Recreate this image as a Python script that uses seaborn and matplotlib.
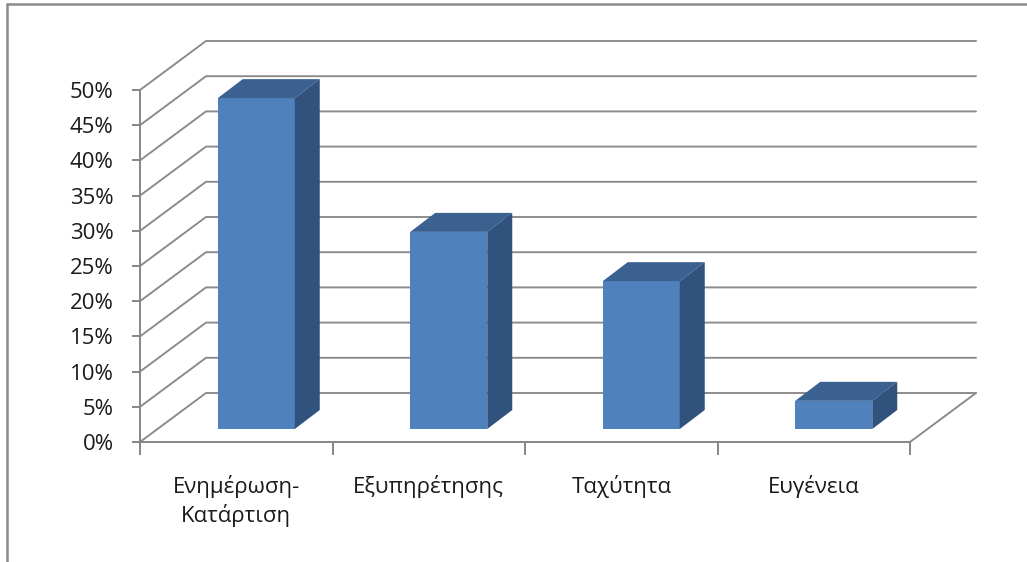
import numpy as np
import pandas as pd
import seaborn as sns
import matplotlib.pyplot as plt
from matplotlib.patches import Polygon
from matplotlib.lines import Line2D
from matplotlib.ticker import FixedLocator

categories = ['Ενημέρωση-\nΚατάρτιση', 'Εξυπηρέτησης', 'Ταχύτητα', 'Ευγένεια']
values = [47, 28, 21, 4]
yticks = [0, 5, 10, 15, 20, 25, 30, 35, 40, 45, 50]

sns.set_style('white')
plt.rcParams['font.family'] = ['Open Sans', 'DejaVu Sans']

W, H = 1027, 562
fig = plt.figure(figsize=(W / 100, H / 100), dpi=100)
# front plane of the floor: x 140..910 px, y 442 (0%) .. 90 (50%)
ax = fig.add_axes([140 / W, (H - 442) / H, 770 / W, 352 / H])
ax.set_xlim(-0.5, 3.5)
ax.set_ylim(0, 50)

# pixel -> data units
px = 4 / 770
py = 50 / 352

grid_c = '#8c8c8c'
# back wall offset, bar offset, bar depth (in px)
wx, wy = 66 * px, 49 * py
bx, by = 20 * px, 13 * py
dx, dy = 25 * px, 19 * py

# perspective gridlines: left wall diagonal + back wall line
for v in yticks:
    ax.plot([-0.5, -0.5 + wx, 3.5 + wx], [v, v + wy, v + wy],
            color=grid_c, lw=1.4, clip_on=False, zorder=1)
# floor right edge
ax.plot([3.5, 3.5 + wx], [0, wy], color=grid_c, lw=1.4, clip_on=False, zorder=1)

df = pd.DataFrame({'cat': categories, 'val': values})
sns.barplot(data=df, x='cat', y='val', width=0.4, color='#4f81bd',
            saturation=1, linewidth=0, ax=ax, zorder=3)

for p in ax.patches:
    x0 = p.get_x() + bx
    w = p.get_width()
    h = p.get_height()
    p.set_x(x0)
    p.set_y(by)
    p.set_clip_on(False)
    top = by + h
    ax.add_patch(Polygon([(x0, top), (x0 + w, top), (x0 + w + dx, top + dy), (x0 + dx, top + dy)],
                         closed=True, facecolor='#3a6190', edgecolor='none', zorder=3, clip_on=False))
    ax.add_patch(Polygon([(x0 + w, by), (x0 + w, top), (x0 + w + dx, top + dy), (x0 + w + dx, by + dy)],
                         closed=True, facecolor='#31527c', edgecolor='none', zorder=3, clip_on=False))

ax.set_xlim(-0.5, 3.5)
ax.set_ylim(0, 50)
ax.set_xlabel('')
ax.set_ylabel('')

for s in ['top', 'right']:
    ax.spines[s].set_visible(False)
for s in ['left', 'bottom']:
    ax.spines[s].set_color('#868686')
    ax.spines[s].set_linewidth(1.4)
    ax.spines[s].set_zorder(2)

ax.set_yticks(yticks)
ax.set_yticklabels([f'{v}%' for v in yticks])
ax.tick_params(axis='y', direction='out', length=6, width=1.4, color='#868686',
               pad=13, labelsize=16, labelcolor='#1a1a1a', left=True)

ax.xaxis.set_major_locator(FixedLocator([-0.5, 0.5, 1.5, 2.5, 3.5]))
ax.xaxis.set_minor_locator(FixedLocator([0, 1, 2, 3]))
ax.set_xticklabels([], minor=False)
ax.set_xticklabels(categories, minor=True, linespacing=1.3)
ax.tick_params(axis='x', which='major', direction='out', length=9, width=1.4,
               color='#868686', bottom=True)
ax.tick_params(axis='x', which='minor', length=0, pad=24, labelsize=16,
               labelcolor='#1a1a1a')

# outer frame (top and left edges only)
fig.add_artist(Line2D([7 / W, 1], [1 - 4 / H, 1 - 4 / H], color='#8a8a8a', lw=1.8,
                      transform=fig.transFigure))
fig.add_artist(Line2D([7 / W, 7 / W], [0, 1 - 4 / H], color='#8a8a8a', lw=1.8,
                      transform=fig.transFigure))

fig.savefig('out.png', dpi=100)
